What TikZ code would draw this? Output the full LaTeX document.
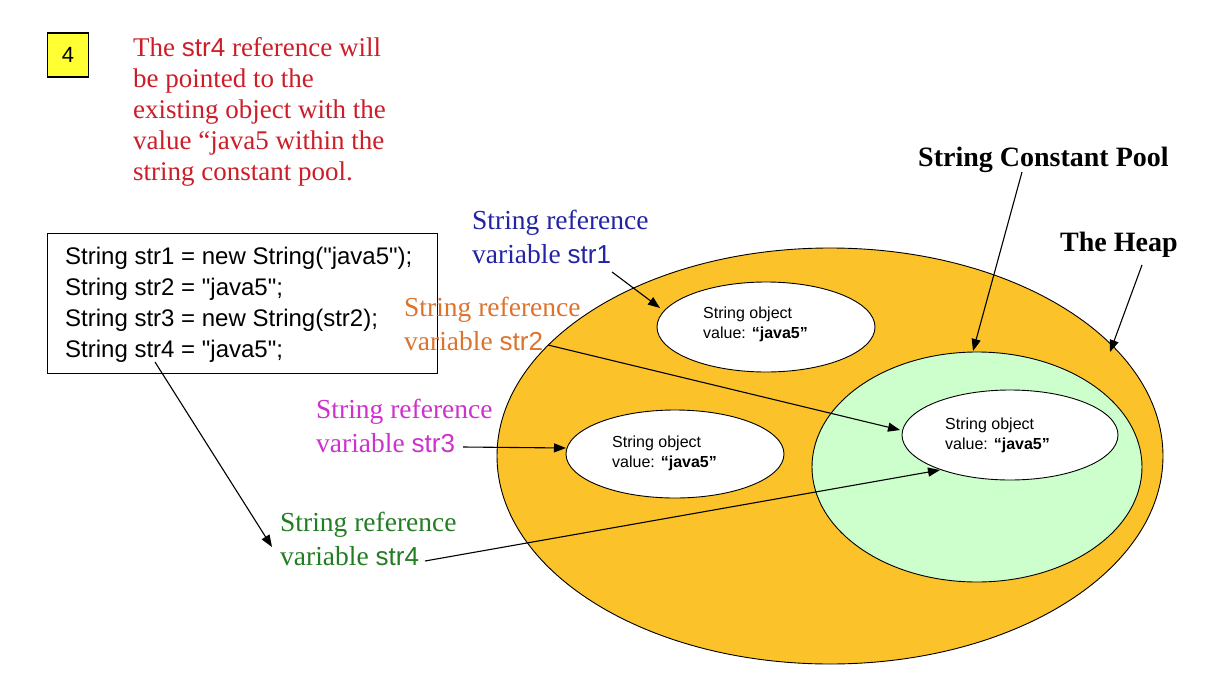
\documentclass[tikz,border=0pt]{standalone}
\usepackage{fontspec}
\setmainfont{Liberation Serif}
\setsansfont{Liberation Sans}
\usetikzlibrary{arrows.meta}
\definecolor{heapc}{RGB}{251,194,42}
\definecolor{poolc}{RGB}{204,255,204}
\definecolor{boxy}{RGB}{255,255,51}
\definecolor{redt}{RGB}{204,30,40}
\definecolor{bluet}{RGB}{35,35,165}
\definecolor{oranget}{RGB}{222,115,45}
\definecolor{magt}{RGB}{205,50,205}
\definecolor{greent}{RGB}{35,125,35}
\tikzset{
  arr/.style={draw=black, line width=1.1pt, -{Triangle[length=12pt,width=9pt]}},
  obj/.style={draw=black, line width=0.9pt, fill=white},
  objtxt/.style={font=\sffamily\fontsize{16}{20}\selectfont, align=left, anchor=west, inner sep=0pt},
  lbl/.style={font=\fontsize{27.5}{34}\selectfont, align=left, anchor=north west, inner sep=0pt},
  ttl/.style={font=\bfseries\fontsize{28}{30}\selectfont, anchor=west, inner sep=0pt},
}
\newcommand{\sv}[1]{{\sffamily\fontsize{26}{30}\selectfont #1}}
\newcommand{\dq}{\XeTeXglyph\XeTeXcharglyph"22\relax}
\begin{document}
\begin{tikzpicture}[x=1pt,y=-1pt]
\useasboundingbox[fill=white] (0,0) rectangle (1216,696);
% heap and pool
\path[draw=black, line width=0.9pt, fill=heapc] (830,456) ellipse [x radius=333, y radius=208];
\path[draw=black, line width=0.9pt, fill=poolc] (977,467) ellipse [x radius=165, y radius=115];
\coordinate (heapedge) at (1110,352);
\coordinate (pooledge) at (973,351);
% string objects
\path[obj] (766,327) ellipse [x radius=109, y radius=45];
\path[obj] (675,454) ellipse [x radius=109, y radius=44];
\path[obj] (1010,435) ellipse [x radius=108, y radius=45];
\coordinate (o1) at (660,308);
\coordinate (o2) at (566,448);
\coordinate (o3a) at (900,430);
\coordinate (o3b) at (940,470);
\node[objtxt] (t1) at (703,324) {String object\\value: \textbf{“java5”}};
\node[objtxt] (t2) at (612,453) {String object\\value: \textbf{“java5”}};
\node[objtxt] (t3) at (945,435) {String object\\value: \textbf{“java5”}};
% number box
\node[draw=black, line width=1.2pt, fill=boxy, minimum width=41pt, minimum height=44pt, inner sep=0pt,
      font=\sffamily\fontsize{22}{22}\selectfont] (num) at (68,55) {4};
% red explanation
\node[font=\fontsize{27}{31}\selectfont, text=redt, align=left, anchor=north west, inner sep=0pt] (expl) at (133,37)
  {The \sv{str4} reference will\\be pointed to the\\existing object with the\\value “java5 within the\\string constant pool.};
% code box
\node[draw=black, line width=1pt, minimum width=390pt, minimum height=140pt, inner sep=0pt] (code) at (242,303) {};
\node[font=\sffamily\fontsize{24}{31}\selectfont, align=left, anchor=north west, inner sep=0pt] (codetxt) at (65,247)
  {String str1 = new String(\dq java5\dq);\\String str2 = \dq java5\dq;\\String str3 = new String(str2);\\String str4 = \dq java5\dq;};
\coordinate (c4) at (155,362);
% labels
\node[lbl, text=bluet] (l1) at (472,210) {String reference\\variable \sv{str1}};
\node[lbl, text=oranget] (l2) at (404,297) {String reference\\variable \sv{str2}};
\node[lbl, text=magt] (l3) at (316,399) {String reference\\variable \sv{str3}};
\node[lbl, text=greent] (l4) at (280,512) {String reference\\variable \sv{str4}};
\node[ttl] (pool) at (918,160) {String Constant Pool};
\node[ttl] (heap) at (1060,245) {The Heap};
% arrows
\draw[arr] (612,272) -- (o1);
\draw[arr] (548,345) -- (o3a);
\draw[arr] (463,447) -- (o2);
\draw[arr] (c4) -- (272,547);
\draw[arr] (425,561) -- (o3b);
\draw[arr] (1022,172) -- (pooledge);
\draw[arr] (1142,265) -- (heapedge);
\end{tikzpicture}
\end{document}
